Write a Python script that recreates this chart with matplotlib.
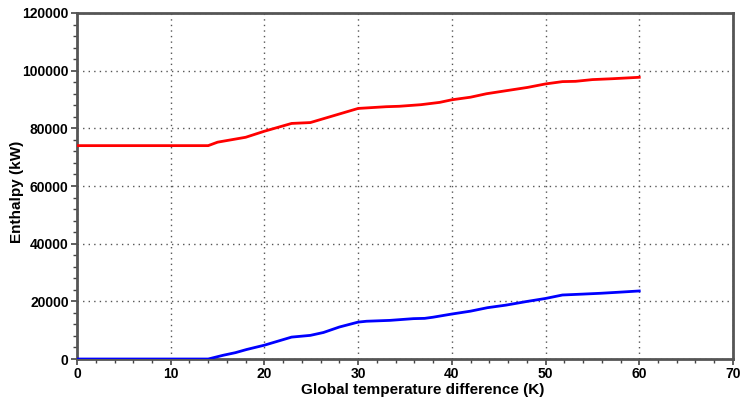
import matplotlib
matplotlib.use('Agg')
import matplotlib.pyplot as plt
from matplotlib.ticker import MultipleLocator

plt.rcParams['font.family'] = ['Liberation Sans', 'DejaVu Sans']

# hot composite (red)
hot_x = [0, 14, 15, 18, 20, 22.9, 24.9, 30, 33, 34.4, 36.7, 38.7, 40, 42, 43.7,
         45.1, 46.9, 48.1, 50, 51.8, 53.2, 55, 57.1, 60]
hot_y = [74000, 74000, 75200, 76900, 79000, 81700, 82000, 86900, 87500, 87650,
         88200, 89000, 89900, 90800, 92000, 92700, 93600, 94200, 95400, 96200,
         96300, 96900, 97200, 97700]

# cold composite (blue)
cold_x = [0, 14, 15.6, 16.9, 18.1, 20, 22.9, 24.9, 26.3, 28, 30, 30.9, 33.4,
          35.9, 37.1, 38, 40, 42, 43.8, 45.8, 47.9, 50, 51.8, 53.9, 55.9, 58, 60]
cold_y = [0, 0, 1300, 2200, 3300, 4800, 7600, 8200, 9200, 11100, 12800, 13100,
          13400, 14000, 14100, 14500, 15600, 16600, 17800, 18700, 19900, 21000,
          22200, 22500, 22800, 23200, 23600]

fig = plt.figure(figsize=(7.42, 4.01), dpi=100)
ax = fig.add_axes([0.1038, 0.1047, 0.884, 0.8629])

ax.plot(hot_x, hot_y, color='#ff0000', lw=2, zorder=3)
ax.plot(cold_x, cold_y, color='#0000ff', lw=2, zorder=3)

ax.set_xlim(0, 70)
ax.set_ylim(0, 120000)
ax.xaxis.set_major_locator(MultipleLocator(10))
ax.xaxis.set_minor_locator(MultipleLocator(2))
ax.yaxis.set_major_locator(MultipleLocator(20000))
ax.yaxis.set_minor_locator(MultipleLocator(4000))

ax.grid(True, which='major', linestyle=(0, (1, 3)), color='#555555', lw=1)

for s in ax.spines.values():
    s.set_color('#555555')
    s.set_linewidth(2)

ax.tick_params(which='both', direction='out', color='#444444', labelsize=10, pad=2)
ax.tick_params(which='major', length=4, width=1.2)
ax.tick_params(which='minor', length=3, width=1)
for lab in ax.get_xticklabels() + ax.get_yticklabels():
    lab.set_fontweight('bold')

ax.set_xlabel('Global temperature difference (K)', fontsize=11, fontweight='bold')
ax.set_ylabel('Enthalpy (kW)', fontsize=11, fontweight='bold')
ax.xaxis.set_label_coords(0.527, -0.068)
ax.yaxis.set_label_coords(-0.081, 0.483)

fig.savefig('out.png', dpi=100)
